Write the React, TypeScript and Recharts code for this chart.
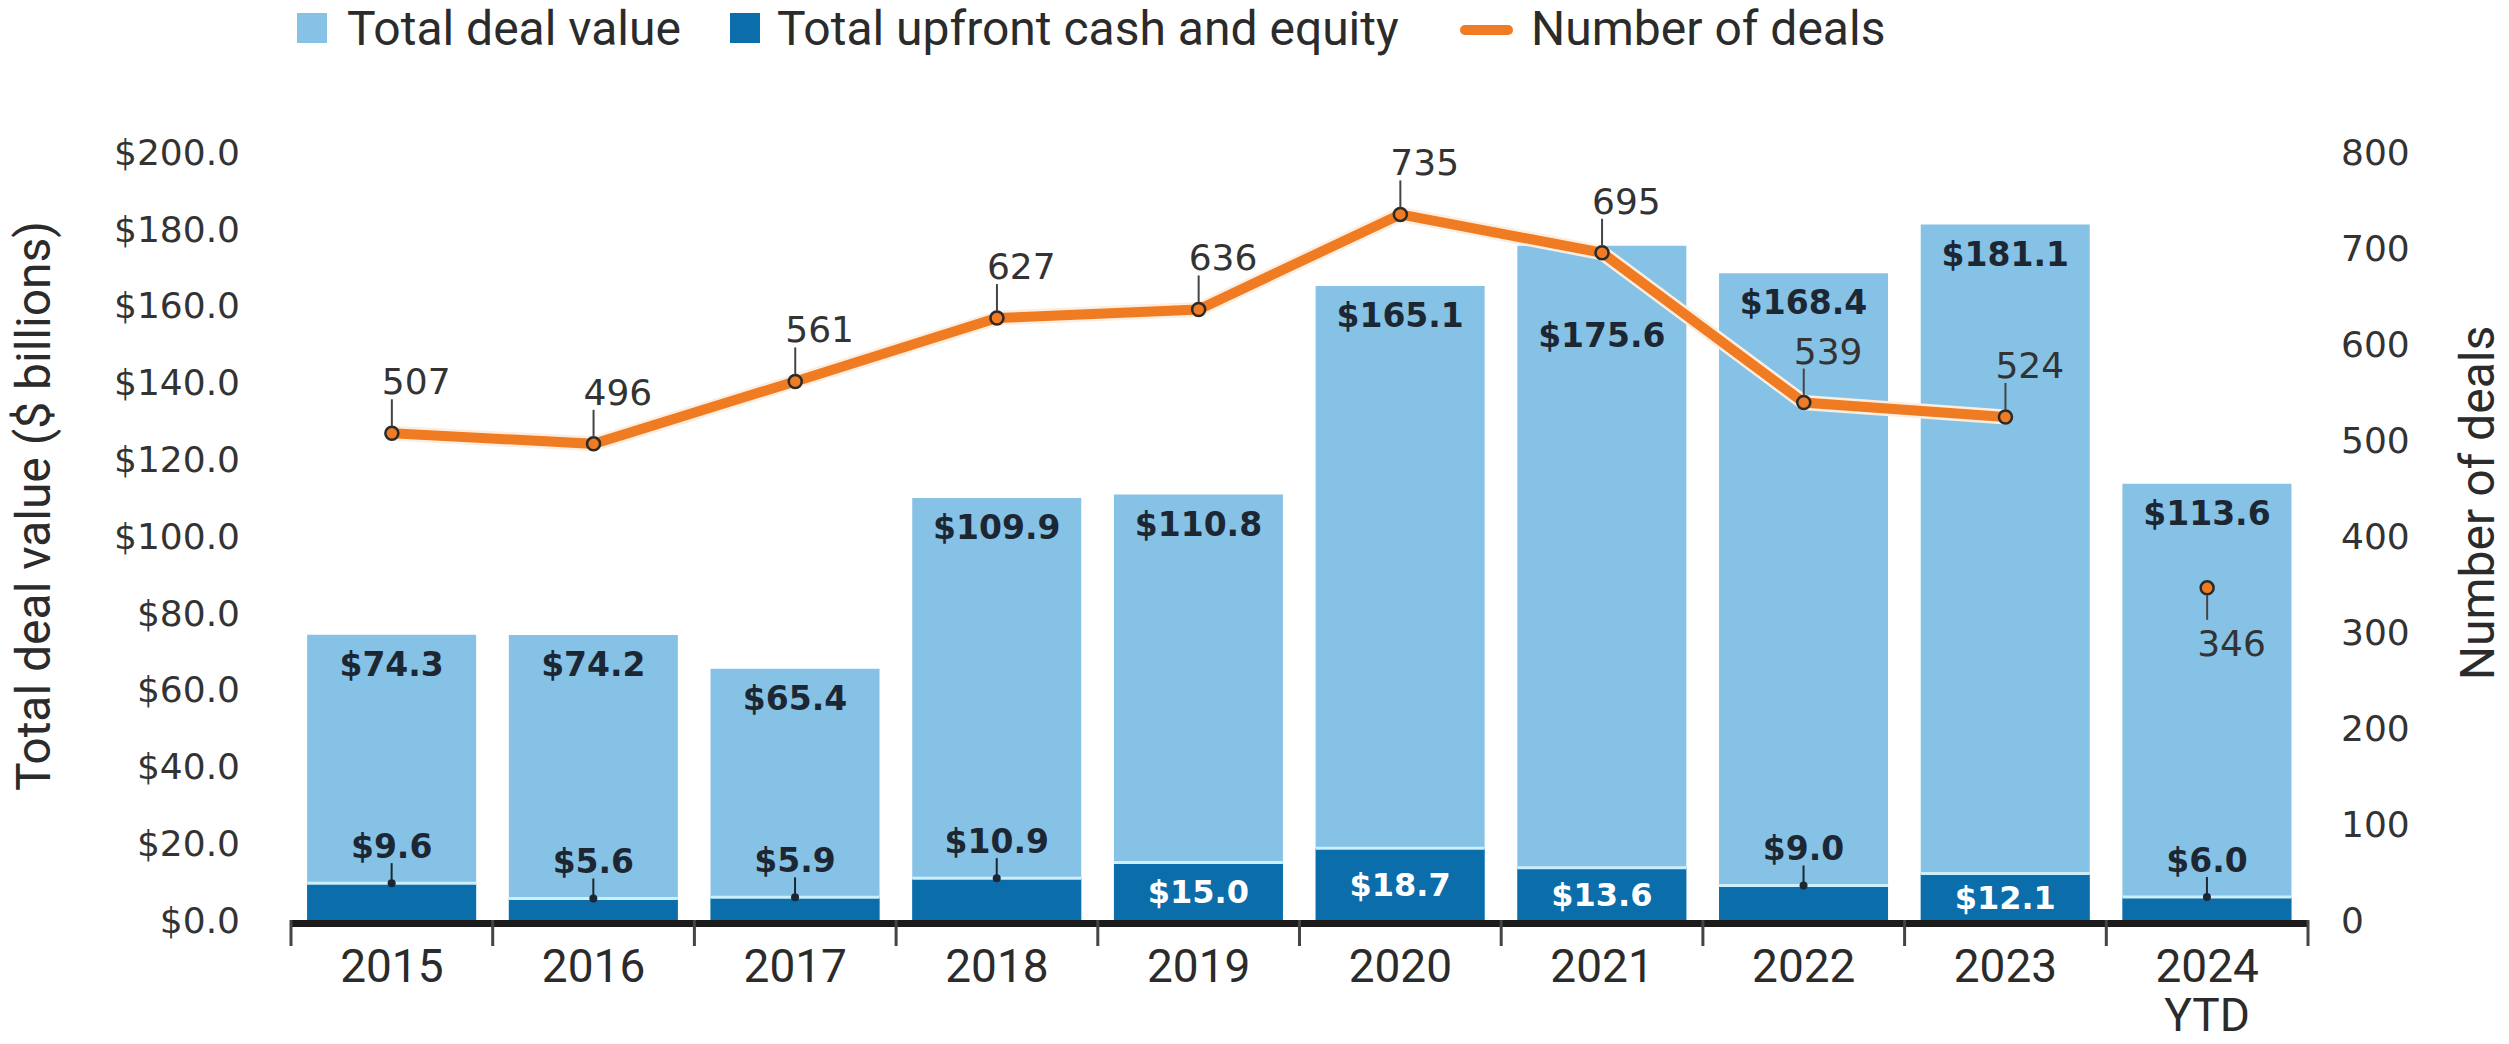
import React from "react";
import { ComposedChart, Bar, Line, XAxis, YAxis, LabelList } from "recharts";

// values
const categories = ["2015", "2016", "2017", "2018", "2019", "2020", "2021", "2022", "2023", "2024\nYTD"];
const totalDealValue = [74.3, 74.2, 65.4, 109.9, 110.8, 165.1, 175.6, 168.4, 181.1, 113.6];
const upfrontCashEquity = [9.6, 5.6, 5.9, 10.9, 15.0, 18.7, 13.6, 9.0, 12.1, 6.0];
const numberOfDeals = [507, 496, 561, 627, 636, 735, 695, 539, 524, null];
const numberOfDealsYtd = [null, null, null, null, null, null, null, null, null, 346];
const leftTicks = [0, 20, 40, 60, 80, 100, 120, 140, 160, 180, 200];
const rightTicks = [0, 100, 200, 300, 400, 500, 600, 700, 800];

const data = categories.map((year, i) => ({
  year,
  total: totalDealValue[i],
  upfront: upfrontCashEquity[i],
  deals: numberOfDeals[i],
  dealsYtd: numberOfDealsYtd[i],
}));

const W = 2509;
const H = 1044;
const LEFT_W = 291;
const RIGHT_W = 201;
const BAND = (W - LEFT_W - RIGHT_W) / categories.length;

const LIGHT = "#86C2E6";
const DARK = "#0B6DAA";
const ORANGE = "#EF7B22";
const INK = "#1c2733";
const GREY = "#333333";

const XTick = (props: any) => {
  const { x, y, payload, index } = props;
  const half = BAND / 2;
  const lines = String(payload.value).split("\n");
  const last = index === categories.length - 1 || payload.value === categories[categories.length - 1];
  return (
    <g>
      <line x1={x - half} x2={x + half} y1={y + 3.5} y2={y + 3.5} stroke="#1b1b1b" strokeWidth={7} />
      <line x1={x - half} x2={x - half} y1={y} y2={y + 26} stroke="#444" strokeWidth={3} />
      {last && <line x1={x + half} x2={x + half} y1={y} y2={y + 26} stroke="#444" strokeWidth={3} />}
      <text x={x} y={y + 62} textAnchor="middle" fontFamily="Roboto" fontSize={46} fill="#2b2b2b">
        {lines.map((l, i) => (
          <tspan key={i} x={x} dy={i === 0 ? 0 : 49}>
            {l}
          </tspan>
        ))}
      </text>
    </g>
  );
};

const LeftTitle = () => (
  <text
    x={50}
    y={506}
    transform="rotate(-90 50 506)"
    textAnchor="middle"
    fontFamily="Roboto"
    fontSize={48}
    fill="#2b2b2b"
  >
    Total deal value ($ billions)
  </text>
);

const RightTitle = () => (
  <text
    x={2494}
    y={503}
    transform="rotate(-90 2494 503)"
    textAnchor="middle"
    fontFamily="Roboto"
    fontSize={48}
    fill="#2b2b2b"
  >
    Number of deals
  </text>
);

const TotalLabel = (p: any) => {
  const { x, y, width, value, index } = p;
  if (value == null) return null;
  // 2021 label sits lower so the line can pass above it
  const drop = categories[index] === "2021" ? 101 : 41;
  return (
    <text x={x + width / 2} y={y + drop} textAnchor="middle" fontFamily="DejaVu Sans" fontWeight="bold" fontSize={33} fill={INK}>
      {`$${Number(value).toFixed(1)}`}
    </text>
  );
};

const UpfrontLabel = (p: any) => {
  const { x, y, width, height, value } = p;
  if (value == null) return null;
  const cx = x + width / 2;
  const txt = `$${Number(value).toFixed(1)}`;
  if (value >= 12) {
    return (
      <text x={cx} y={y + height / 2 + 12} textAnchor="middle" fontFamily="DejaVu Sans" fontWeight="bold" fontSize={32} fill="#ffffff">
        {txt}
      </text>
    );
  }
  return (
    <g>
      <line x1={cx} x2={cx} y1={y} y2={y - 20} stroke={INK} strokeWidth={2} />
      <circle cx={cx} cy={y} r={4} fill={INK} />
      <text x={cx} y={y - 25} textAnchor="middle" fontFamily="DejaVu Sans" fontWeight="bold" fontSize={33} fill={INK}>
        {txt}
      </text>
    </g>
  );
};

const UpfrontShape = (p: any) => {
  const { x, y, width, height } = p;
  return (
    <g>
      <rect x={x} y={y} width={width} height={height} fill={DARK} />
      <line x1={x} x2={x + width} y1={y} y2={y} stroke="#cdeefb" strokeWidth={3} />
    </g>
  );
};

const pt = (p: any) => ({
  x: p.x ?? p.viewBox?.x,
  y: p.y ?? p.viewBox?.y,
});

const DealLabelAbove = (p: any) => {
  if (p.value == null) return null;
  const { x, y } = pt(p);
  return (
    <g>
      <line x1={x} x2={x} y1={y - 7} y2={y - 34} stroke="#444" strokeWidth={2} />
      <text x={x - 10} y={y - 39} fontFamily="DejaVu Sans" fontSize={36} fill={GREY}>
        {p.value}
      </text>
    </g>
  );
};

const DealLabelBelow = (p: any) => {
  if (p.value == null) return null;
  const { x, y } = pt(p);
  return (
    <g>
      <line x1={x} x2={x} y1={y + 7} y2={y + 32} stroke="#444" strokeWidth={2} />
      <text x={x - 10} y={y + 68} fontFamily="DejaVu Sans" fontSize={36} fill={GREY}>
        {p.value}
      </text>
    </g>
  );
};

const DealDot = (p: any) => {
  const { cx, cy, index } = p;
  if (cx == null || cy == null) return <g key={`d${index}`} />;
  return <circle key={`d${index}`} cx={cx} cy={cy} r={6.5} fill={ORANGE} stroke="#2a2a2a" strokeWidth={2.5} />;
};

function LegendRow() {
  return (
    <svg width={W} height={60} style={{ position: "absolute", left: 0, top: 0 }}>
      <rect x={297} y={13} width={30} height={30} fill={LIGHT} />
      <text x={347} y={45} fontFamily="Roboto" fontSize={48} fill="#2b2b2b">Total deal value</text>
      <rect x={730} y={13} width={30} height={30} fill={DARK} />
      <text x={777} y={45} fontFamily="Roboto" fontSize={48} fill="#2b2b2b">Total upfront cash and equity</text>
      <line x1={1465} x2={1508} y1={30} y2={30} stroke={ORANGE} strokeWidth={10} strokeLinecap="round" />
      <text x={1531} y={45} fontFamily="Roboto" fontSize={48} fill="#2b2b2b">Number of deals</text>
    </svg>
  );
}

export default function App() {
  return (
    <div style={{ position: "relative", width: W, height: H, background: "#fff" }}>
      <style>{"body{margin:0}"}</style>
      <ComposedChart
        width={W}
        height={H}
        data={data}
        margin={{ top: 152, right: 0, bottom: 0, left: 0 }}
        barCategoryGap="8%"
      >
        <XAxis
          xAxisId="back"
          dataKey="year"
          height={124}
          axisLine={false}
          tickLine={false}
          tickSize={0}
          tickMargin={0}
          interval={0}
          tick={<XTick />}
        />
        <XAxis xAxisId="front" dataKey="year" hide />
        <YAxis
          yAxisId="left"
          orientation="left"
          domain={[0, 200]}
          ticks={leftTicks}
          interval={0}
          width={LEFT_W}
          axisLine={false}
          tickLine={false}
          tickSize={0}
          tickMargin={51}
          tickFormatter={(v: number) => `$${v.toFixed(1)}`}
          tick={{ fontSize: 36, fill: GREY, fontFamily: "DejaVu Sans" }}
          label={<LeftTitle />}
        />
        <YAxis
          yAxisId="right"
          orientation="right"
          domain={[0, 800]}
          ticks={rightTicks}
          interval={0}
          width={RIGHT_W}
          axisLine={false}
          tickLine={false}
          tickSize={0}
          tickMargin={33}
          tick={{ fontSize: 36, fill: GREY, fontFamily: "DejaVu Sans", textAnchor: "start" }}
          label={<RightTitle />}
        />
        <Bar xAxisId="back" yAxisId="left" dataKey="total" fill={LIGHT} isAnimationActive={false}>
          <LabelList dataKey="total" content={TotalLabel} />
        </Bar>
        <Bar xAxisId="front" yAxisId="left" dataKey="upfront" fill={DARK} shape={UpfrontShape} isAnimationActive={false}>
          <LabelList dataKey="upfront" content={UpfrontLabel} />
        </Bar>
        <Line
          xAxisId="back"
          yAxisId="right"
          dataKey="deals"
          stroke="#fbeee0"
          strokeWidth={15}
          dot={false}
          activeDot={false}
          isAnimationActive={false}
        />
        <Line
          xAxisId="back"
          yAxisId="right"
          dataKey="deals"
          stroke={ORANGE}
          strokeWidth={10}
          dot={DealDot}
          activeDot={false}
          isAnimationActive={false}
        >
          <LabelList dataKey="deals" content={DealLabelAbove} />
        </Line>
        <Line
          xAxisId="back"
          yAxisId="right"
          dataKey="dealsYtd"
          stroke="none"
          dot={DealDot}
          activeDot={false}
          isAnimationActive={false}
        >
          <LabelList dataKey="dealsYtd" content={DealLabelBelow} />
        </Line>
      </ComposedChart>
      <LegendRow />
    </div>
  );
}
